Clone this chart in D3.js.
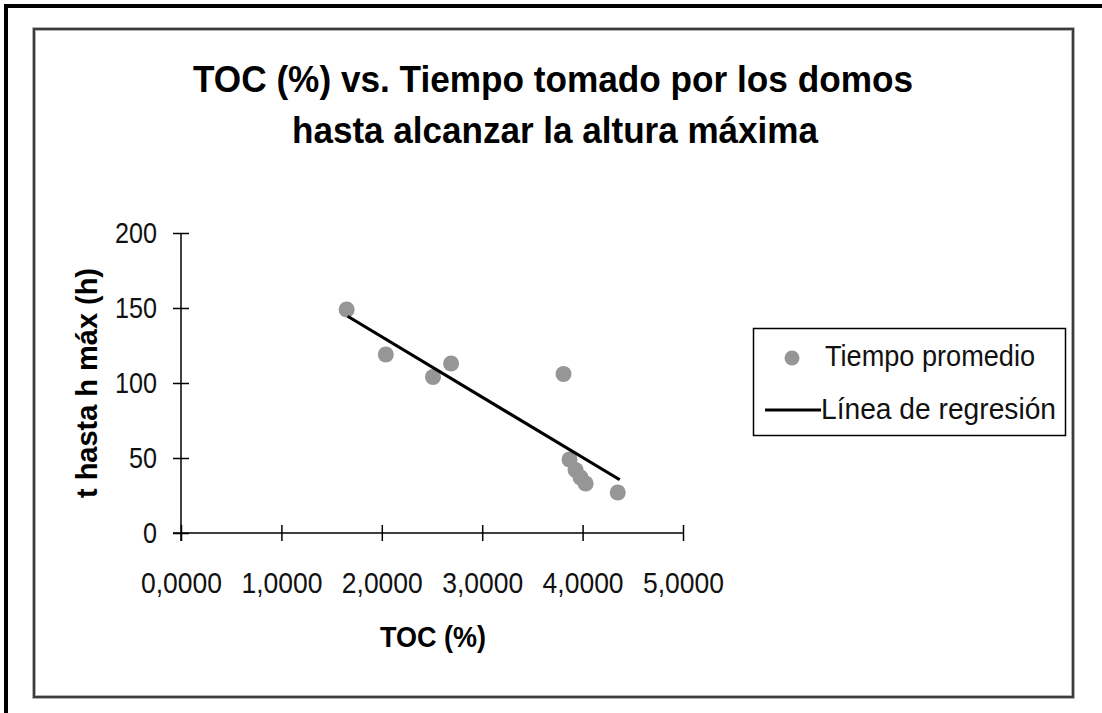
<!DOCTYPE html>
<html><head><meta charset="utf-8">
<script src="https://cdn.jsdelivr.net/npm/d3@7"></script>
<style>html,body{margin:0;padding:0;background:#fff;} svg{display:block;}</style>
</head><body>
<svg id="c" width="1102" height="713"></svg>
<script>
const tocValues = [1.65, 2.04, 2.51, 2.69, 3.81, 3.87, 3.93, 3.98, 4.03, 4.35];
const tiempoValues = [149, 119, 104, 113, 106, 49, 42, 37, 33, 27];
const regX = [1.66, 4.37];
const regY = [144.5, 35.5];
const xTicks = [0, 1, 2, 3, 4, 5];
const yTicks = [0, 50, 100, 150, 200];
const titleLines = ["TOC (%) vs. Tiempo tomado por los domos", "hasta alcanzar la altura máxima"];
const xLabel = "TOC (%)";
const yLabel = "t hasta h máx (h)";
const legendLabels = ["Tiempo promedio", "Línea de regresión"];

const svg = d3.select("#c");
const F = "'Liberation Sans', Arial, sans-serif";
svg.append("rect").attr("width",1102).attr("height",713).attr("fill","#fff");
// outer thick border (top and left)
svg.append("line").attr("x1",4).attr("x2",1102).attr("y1",6).attr("y2",6).attr("stroke","#000").attr("stroke-width",4);
svg.append("line").attr("x1",6).attr("x2",6).attr("y1",4).attr("y2",713).attr("stroke","#000").attr("stroke-width",4);
// chart area box
svg.append("rect").attr("x",34).attr("y",29).attr("width",1039).attr("height",668)
  .attr("fill","none").attr("stroke","#9a9a9a").attr("stroke-width",3.5);
svg.append("rect").attr("x",34).attr("y",29).attr("width",1039).attr("height",668)
  .attr("fill","none").attr("stroke","#3c3c3c").attr("stroke-width",2);

// title
const tl = [{y:92, x:553, w:720}, {y:143, x:555, w:526}];
titleLines.forEach((t,i)=>{
  svg.append("text").attr("x",tl[i].x).attr("y",tl[i].y).attr("text-anchor","middle")
    .attr("font-family",F).attr("font-weight","bold").attr("font-size",36)
    .attr("textLength",tl[i].w).attr("lengthAdjust","spacingAndGlyphs").attr("fill","#000").text(t);
});

const x = d3.scaleLinear().domain([0,5]).range([181,683]);
const y = d3.scaleLinear().domain([0,200]).range([533,233]);

// y axis
const gy = svg.append("g").attr("transform","translate(181,0)")
  .call(d3.axisLeft(y).tickValues(yTicks).tickSize(8).tickSizeOuter(0).tickPadding(16));
gy.select(".domain").attr("d", "M0,233V541").attr("stroke","#000").attr("stroke-width",1.5);
gy.selectAll(".tick line").attr("x1",-8).attr("x2",8).attr("stroke","#000").attr("stroke-width",1.5);
gy.selectAll(".tick text").attr("font-family",F).attr("font-size",30).attr("fill","#111")
  .attr("x",-24).attr("dy","0.32em")
  .each(function(d){ const n=String(d).length; d3.select(this).attr("textLength",n*14).attr("lengthAdjust","spacingAndGlyphs"); });

// x axis
const gx = svg.append("g").attr("transform","translate(0,533)")
  .call(d3.axisBottom(x).tickValues(xTicks).tickSize(8).tickSizeOuter(0)
    .tickFormat(d => d3.format(".4f")(d).replace(".", ",")));
gx.select(".domain").attr("d","M173,0H683").attr("stroke","#000").attr("stroke-width",1.5);
gx.selectAll(".tick line").attr("y1",-8).attr("y2",8).attr("stroke","#000").attr("stroke-width",1.5);
gx.selectAll(".tick text").attr("font-family",F).attr("font-size",30).attr("fill","#111")
  .attr("y",60).attr("dy",0).attr("textLength",81).attr("lengthAdjust","spacingAndGlyphs");

// axis labels
svg.append("text").attr("x",433).attr("y",647).attr("text-anchor","middle")
  .attr("font-family",F).attr("font-weight","bold").attr("font-size",29)
  .attr("textLength",106).attr("lengthAdjust","spacingAndGlyphs").text(xLabel);
svg.append("text").attr("transform","translate(97,383) rotate(-90)").attr("text-anchor","middle")
  .attr("font-family",F).attr("font-weight","bold").attr("font-size",29)
  .attr("textLength",230).attr("lengthAdjust","spacingAndGlyphs").text(yLabel);

// points
const pts = tocValues.map((v,i)=>({x:v, y:tiempoValues[i]}));
svg.append("g").selectAll("circle").data(pts).join("circle")
  .attr("cx",d=>x(d.x)).attr("cy",d=>y(d.y)).attr("r",8).attr("fill","#969696");

// regression line
const line = d3.line().x(d=>x(d[0])).y(d=>y(d[1]));
svg.append("path").attr("d", line(regX.map((v,i)=>[v,regY[i]])))
  .attr("fill","none").attr("stroke","#000").attr("stroke-width",3.2);

// legend
svg.append("rect").attr("x",753.5).attr("y",328.5).attr("width",312).attr("height",107)
  .attr("fill","#fff").attr("stroke","#000").attr("stroke-width",1.5);
svg.append("circle").attr("cx",792).attr("cy",358).attr("r",7.5).attr("fill","#969696");
svg.append("line").attr("x1",765).attr("x2",821).attr("y1",410).attr("y2",410).attr("stroke","#000").attr("stroke-width",3.2);
svg.append("text").attr("x",825).attr("y",366).attr("font-family",F).attr("font-size",30).attr("fill","#111")
  .attr("textLength",210).attr("lengthAdjust","spacingAndGlyphs").text(legendLabels[0]);
svg.append("text").attr("x",821).attr("y",419).attr("font-family",F).attr("font-size",30).attr("fill","#111")
  .attr("textLength",235).attr("lengthAdjust","spacingAndGlyphs").text(legendLabels[1]);
</script>
</body></html>
